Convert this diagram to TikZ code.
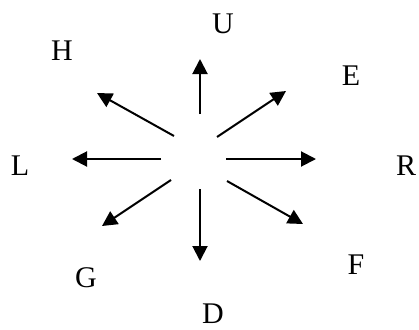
\documentclass[tikz,border=0pt]{standalone}
\usepackage{fontspec}
\setmainfont{Liberation Serif}
\usetikzlibrary{arrows.meta}
\begin{document}
\begin{tikzpicture}[x=1pt,y=-1pt,
  lbl/.style={inner sep=0pt,font=\fontsize{30}{31}\selectfont},
  arr/.style={line width=2pt,-{Triangle[length=15pt,width=15pt]}}]
\useasboundingbox (0,0) rectangle (419,329);
% labels
\node[lbl] (U) at (223,24) {U};
\node[lbl] (H) at (62,51) {H};
\node[lbl] (E) at (351,76) {E};
\node[lbl] (L) at (20,166) {L};
\node[lbl] (R) at (406,166) {R};
\node[lbl] (G) at (86,278) {G};
\node[lbl] (F) at (356,265) {F};
\node[lbl] (D) at (213,314) {D};
% arrow endpoints
\coordinate (u0) at (200,114); \coordinate (u1) at (200,59);
\coordinate (h0) at (174,136); \coordinate (h1) at (97,93);
\coordinate (e0) at (217,137); \coordinate (e1) at (286,91);
\coordinate (l0) at (161,159); \coordinate (l1) at (72,159);
\coordinate (r0) at (226,159); \coordinate (r1) at (316,159);
\coordinate (g0) at (171,180); \coordinate (g1) at (102,226);
\coordinate (f0) at (227,181); \coordinate (f1) at (303,224);
\coordinate (d0) at (200,189); \coordinate (d1) at (200,261);
\draw[arr] (u0) -- (u1);
\draw[arr] (h0) -- (h1);
\draw[arr] (e0) -- (e1);
\draw[arr] (l0) -- (l1);
\draw[arr] (r0) -- (r1);
\draw[arr] (g0) -- (g1);
\draw[arr] (f0) -- (f1);
\draw[arr] (d0) -- (d1);
\end{tikzpicture}
\end{document}
